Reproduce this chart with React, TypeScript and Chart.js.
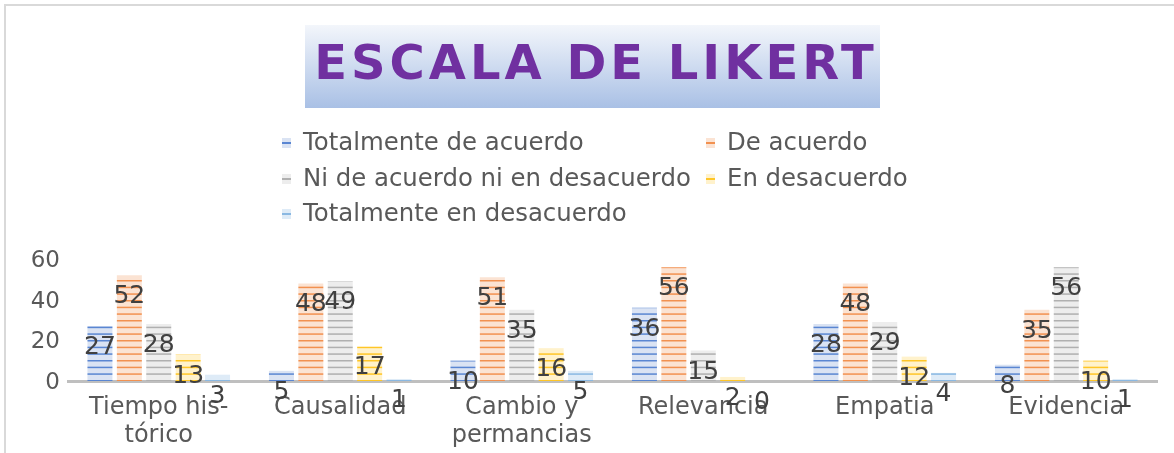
import React, { useEffect, useRef } from "react";
import { Chart, registerables } from "chart.js";

Chart.register(...registerables);

const categories: (string | string[])[] = [
  ["Tiempo his-", "tórico"],
  "Causalidad",
  ["Cambio y", "permancias"],
  "Relevancia",
  "Empatia",
  "Evidencia",
];

const seriesNames = [
  "Totalmente de acuerdo",
  "De acuerdo",
  "Ni de acuerdo ni en desacuerdo",
  "En desacuerdo",
  "Totalmente en desacuerdo",
];

const totalmenteDeAcuerdo = [27, 5, 10, 36, 28, 8];
const deAcuerdo = [52, 48, 51, 56, 48, 35];
const niNi = [28, 49, 35, 15, 29, 56];
const enDesacuerdo = [13, 17, 16, 2, 12, 10];
const totalmenteEnDesacuerdo = [3, 1, 5, 0, 4, 1];

const yTicks = [0, 20, 40, 60];

const fillColors = ["#dae3f3", "#fbe3d3", "#ededed", "#fff2cc", "#deebf7"];
const lineColors = ["#5a86d2", "#f29150", "#b0b0b0", "#ffc627", "#8ab8e2"];

const FONT = '"DejaVu Sans", Verdana, sans-serif';

function makePattern(fill: string, line: string): CanvasPattern | string {
  const c = document.createElement("canvas");
  c.width = 8;
  c.height = 20;
  const g = c.getContext("2d");
  if (!g) return fill;
  g.fillStyle = fill;
  g.fillRect(0, 0, 8, 20);
  g.fillStyle = line;
  for (const y of [0, 6.67, 13.33]) g.fillRect(0, y, 8, 1.5);
  const p = g.createPattern(c, "repeat");
  return p || fill;
}

const decorPlugin = {
  id: "decor",
  beforeDraw(chart: any) {
    const ctx = chart.ctx as CanvasRenderingContext2D;
    ctx.save();
    // outer border
    ctx.fillStyle = "#d9d9d9";
    ctx.fillRect(4, 4, 2, chart.height);
    ctx.fillRect(4, 4, chart.width, 2);
    // title box
    const g = ctx.createLinearGradient(0, 25, 0, 108);
    g.addColorStop(0, "#f3f6fb");
    g.addColorStop(1, "#a9c0e5");
    ctx.fillStyle = g;
    ctx.fillRect(305, 25, 575, 83);
    ctx.fillStyle = "#7030a0";
    ctx.font = `bold 48px ${FONT}`;
    (ctx as any).letterSpacing = "4px";
    ctx.textAlign = "center";
    ctx.textBaseline = "middle";
    ctx.fillText("ESCALA DE LIKERT", 596, 67);
    (ctx as any).letterSpacing = "0px";
    // legend
    const cols = [282, 706];
    const rows = [143, 179, 214];
    ctx.font = `24.4px ${FONT}`;
    ctx.textAlign = "left";
    chart.data.datasets.forEach((ds: any, i: number) => {
      const x = cols[i % 2];
      const y = rows[Math.floor(i / 2)];
      ctx.fillStyle = fillColors[i];
      ctx.fillRect(x, y - 5, 9, 10);
      ctx.fillStyle = lineColors[i];
      ctx.fillRect(x, y - 1, 9, 2);
      ctx.fillStyle = "#595959";
      ctx.fillText(ds.label, x + 21, y + 1);
    });
    ctx.restore();
  },
  afterDatasetsDraw(chart: any) {
    const ctx = chart.ctx as CanvasRenderingContext2D;
    ctx.save();
    ctx.font = `25px ${FONT}`;
    ctx.fillStyle = "#404040";
    ctx.textAlign = "center";
    ctx.textBaseline = "middle";
    chart.data.datasets.forEach((ds: any, i: number) => {
      const meta = chart.getDatasetMeta(i);
      meta.data.forEach((bar: any, j: number) => {
        ctx.fillText(String(ds.data[j]), bar.x, bar.y + 21.5);
      });
    });
    ctx.restore();
  },
};

export default function App() {
  const ref = useRef<HTMLCanvasElement>(null);
  useEffect(() => {
    if (!ref.current) return;
    const series = [totalmenteDeAcuerdo, deAcuerdo, niNi, enDesacuerdo, totalmenteEnDesacuerdo];
    const chart = new Chart(ref.current, {
      type: "bar",
      data: {
        labels: categories,
        datasets: series.map((d, i) => ({
          label: seriesNames[i],
          data: d,
          backgroundColor: makePattern(fillColors[i], lineColors[i]) as any,
          borderWidth: 0,
          categoryPercentage: 0.81,
          barPercentage: 0.85,
        })),
      },
      options: {
        responsive: false,
        animation: false,
        devicePixelRatio: 1,
        layout: { padding: { top: 259, left: 0, right: 17, bottom: 0 } },
        plugins: {
          legend: { display: false },
          title: { display: false },
          tooltip: { enabled: false },
        },
        scales: {
          x: {
            grid: { display: false, drawTicks: false },
            border: { display: true, color: "#bfbfbf", width: 3 },
            ticks: {
              color: "#595959",
              font: { family: FONT, size: 24 },
              padding: 12,
              maxRotation: 0,
              autoSkip: false,
            },
            afterFit: (s: any) => {
              s.height = 72;
            },
          },
          y: {
            min: 0,
            max: 60,
            afterBuildTicks: (s: any) => {
              s.ticks = yTicks.map((v) => ({ value: v }));
            },
            grid: { display: false, drawTicks: false },
            border: { display: false },
            ticks: {
              color: "#595959",
              font: { family: FONT, size: 23 },
              padding: 8,
              labelOffset: 2,
            },
            afterFit: (s: any) => {
              s.width = 68;
            },
          },
        },
      },
      plugins: [decorPlugin],
    });
    return () => chart.destroy();
  }, []);
  return (
    <canvas
      ref={ref}
      width={1174}
      height={453}
      style={{ position: "fixed", left: 0, top: 0, display: "block", background: "#fff" }}
    />
  );
}
